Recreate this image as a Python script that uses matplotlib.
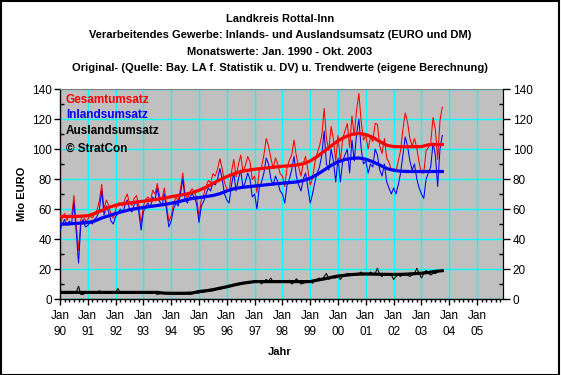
import matplotlib
matplotlib.use("Agg")
import matplotlib.pyplot as plt
from matplotlib.patches import Rectangle
from matplotlib.ticker import MultipleLocator, FixedLocator

plt.rcParams['font.family'] = ['Liberation Sans', 'DejaVu Sans']

# ---------------- data (monthly, Jan 1990 - Oct 2003) ----------------
inland = [
    46, 50, 53, 49, 52, 50, 64, 45, 24, 50, 53, 48,      # 1990
    49, 51, 50, 53, 55, 60, 72, 56, 62, 58, 52, 50,      # 1991
    55, 57, 60, 58, 62, 66, 60, 58, 63, 65, 58, 46,      # 1992
    58, 62, 64, 61, 68, 66, 74, 65, 62, 70, 59, 48,      # 1993
    52, 60, 64, 62, 70, 80, 66, 64, 68, 70, 68, 63,      # 1994
    51, 62, 65, 70, 74, 72, 78, 76, 80, 87, 80, 70,      # 1995
    66, 64, 76, 84, 72, 80, 86, 74, 78, 84, 80, 68,      # 1996
    70, 60, 74, 78, 84, 94, 90, 80, 76, 82, 78, 72,      # 1997
    70, 64, 76, 80, 86, 95, 82, 76, 72, 80, 84, 74,      # 1998
    64, 70, 78, 84, 88, 96, 112, 90, 86, 100, 92, 78,    # 1999
    94, 78, 92, 96, 100, 84, 106, 92, 110, 120, 100, 90, # 2000
    92, 84, 90, 88, 100, 96, 86, 82, 90, 78, 74, 70,     # 2001
    74, 70, 76, 84, 96, 108, 102, 92, 86, 90, 80, 74,    # 2002
    70, 67, 80, 84, 88, 104, 96, 75, 100, 109,           # 2003
]
ausland = [
    3.5, 4, 4, 3.5, 4, 4.5, 5, 4.5, 8.5, 3, 3, 4,
    4, 4.5, 4, 4, 4.5, 5.5, 4.5, 4, 4, 4.5, 4, 4,
    4.5, 7, 4, 4, 4.5, 4, 4, 4.5, 4, 4, 4.5, 4,
    4, 4.5, 4, 4, 4.5, 4, 3, 3.5, 4, 4, 3.5, 3.5,
    3.5, 3.5, 4, 3.5, 3.5, 4, 3.5, 3.5, 3, 3.5, 4, 4,
    4, 4.5, 4.5, 5, 5, 5.5, 5.5, 6, 6.5, 6.5, 7, 7.5,
    7.5, 8, 8.5, 9, 9.5, 9.5, 10, 10.5, 11, 11, 11.5, 11.5,
    12, 11, 12, 10, 12, 13, 12, 14, 11, 12, 12, 11.5,
    12, 11, 12, 12.5, 10, 11, 13.5, 12, 10, 10.5, 11, 12,
    12, 10.5, 13, 13, 14, 13, 15, 17, 13, 15, 14.5, 14,
    15, 13, 15, 16, 17, 17, 16, 17, 16, 17, 18, 16,
    17, 16, 18, 17, 17, 20.5, 16, 15, 17, 16, 17, 16,
    13, 15, 16, 15, 17, 16, 16, 15, 16, 17, 20.5, 17,
    14, 17, 19, 17, 16, 17, 17, 18, 19, 19,
]
gesamt = [
    49.5, 54, 57, 52.5, 56, 54.5, 69, 49.5, 32.5, 53, 56, 52,
    53, 55.5, 54, 57, 59.5, 65.5, 76.5, 60, 66, 62.5, 56, 54,
    59.5, 64, 64, 62, 66.5, 70, 64, 62.5, 67, 69, 62.5, 50,
    62, 66.5, 68, 65, 72.5, 70, 77, 68.5, 66, 74, 62.5, 51.5,
    55.5, 63.5, 68, 65.5, 73.5, 84, 69.5, 67.5, 71, 73.5, 72, 67,
    55, 66.5, 69.5, 75, 79, 77.5, 83.5, 82, 86.5, 93.5, 87, 77.5,
    73.5, 72, 84.5, 93, 81.5, 89.5, 96, 84.5, 89, 95, 91.5, 79.5,
    82, 71, 86, 88, 96, 107, 102, 94, 87, 94, 90, 83.5,
    82, 75, 88, 92.5, 96, 106, 95.5, 88, 82, 90.5, 95, 86,
    76, 80.5, 91, 97, 102, 109, 127, 107, 99, 115, 106.5, 92,
    109, 91, 107, 112, 117, 101, 122, 109, 126, 137, 118, 106,
    109, 100, 108, 105, 117, 116.5, 102, 97, 107, 94, 91, 86,
    87, 85, 92, 99, 113, 124, 118, 107, 102, 107, 100.5, 91,
    84, 84, 99, 101, 104, 121, 113, 93, 119, 128,
]

# trend values, sampled quarterly (Jan, Apr, Jul, Oct), Jan 1990 - Oct 2003
trend_gesamt = [
    55, 55, 55, 55.2, 55.5, 57, 59, 61, 62.5, 63.5, 64, 64.7,
    65.2, 65.8, 66.5, 67.2, 68.2, 69, 69.8, 70.8, 72.5, 74.5, 77, 79.5,
    81.6, 83.5, 85, 85.8, 86.5, 87, 87.5, 88, 88.5, 88.8, 89.3, 90.2,
    92, 95, 98.5, 102, 105.5, 108, 109.8, 110.4, 109.6, 107.8, 105, 102.5,
    101.6, 101.5, 101.5, 101.5, 101.6, 102.8, 103, 103,
]
trend_inland = [
    50, 50, 50.3, 50.6, 51, 52, 54, 55.5, 57, 58.3, 59.5, 60.3,
    61, 61.7, 62.3, 63, 63.8, 64.8, 66, 67, 67.6, 68.3, 69, 70.2,
    72, 73.5, 74.3, 74.8, 75.3, 75.8, 76.3, 76.8, 77.2, 77.6, 78, 79,
    80.5, 83, 86, 89, 91.5, 93, 93.8, 94, 93.2, 91.5, 89.3, 87,
    85.8, 85.2, 85, 85, 85, 85, 85, 85,
]
trend_ausland = [
    4.4, 4.4, 4.4, 4.4, 4.4, 4.4, 4.4, 4.4, 4.4, 4.4, 4.4, 4.4,
    4.4, 4.4, 4.4, 3.9, 3.8, 3.8, 3.8, 4.0, 5.0, 5.5, 6.2, 7.2,
    8.2, 9.3, 10.3, 11.0, 11.6, 11.6, 11.6, 11.6, 11.6, 11.6, 11.6, 11.6,
    11.6, 12.6, 13.4, 14.4, 15.3, 15.8, 16.3, 16.6, 16.7, 16.6, 16.5, 16.4,
    16.4, 16.4, 16.6, 16.9, 17.2, 17.7, 18.4, 18.9,
]

year_labels = ["90", "91", "92", "93", "94", "95", "96", "97",
               "98", "99", "00", "01", "02", "03", "04", "05"]

title_lines = [
    "Landkreis Rottal-Inn",
    "Verarbeitendes Gewerbe: Inlands- und Auslandsumsatz (EURO und DM)",
    "Monatswerte: Jan. 1990 - Okt. 2003",
    "Original- (Quelle: Bay. LA f. Statistik u. DV) u. Trendwerte (eigene Berechnung)",
]
legend_items = [("Gesamtumsatz", "#FF0000"), ("Inlandsumsatz", "#0000FF"),
                ("Auslandsumsatz", "#000000"), ("\u00a9 StratCon", "#000000")]

# ---------------- figure ----------------
W, H = 561, 375
fig = plt.figure(figsize=(W / 100, H / 100), dpi=100, facecolor="white")
fig.patches.append(Rectangle((0.5 / W, 0.5 / H), (W - 2.5) / W, (H - 1.5) / H,
                             transform=fig.transFigure, fill=False,
                             edgecolor="black", linewidth=1.5))

L, R, T, B = 60, 503, 89, 299
ax = fig.add_axes([L / W, 1 - B / H, (R - L) / W, (B - T) / H])
ax.set_facecolor("#C0C0C0")

months = list(range(len(gesamt)))
qmonths = [3 * i for i in range(len(trend_gesamt))]

ax.set_xlim(0, 191.2)
ax.set_ylim(0, 140)

# grid
ax.yaxis.set_major_locator(MultipleLocator(20))
ax.yaxis.set_minor_locator(MultipleLocator(10))
ax.xaxis.set_major_locator(FixedLocator([12 * i for i in range(len(year_labels))]))
ax.xaxis.set_minor_locator(MultipleLocator(2))
ax.grid(True, which="major", color="#00FFFF", linewidth=1.0)
ax.set_axisbelow(True)

lw = 0.75
ax.plot(months, gesamt, color="#FF0000", linewidth=lw, zorder=3)
ax.plot(months, inland, color="#0000FF", linewidth=lw, zorder=3)
ax.plot(months, ausland, color="#000000", linewidth=lw, zorder=3)
tw = 2.3
ax.plot(qmonths, trend_gesamt, color="#FF0000", linewidth=tw, zorder=4)
ax.plot(qmonths, trend_inland, color="#0000FF", linewidth=tw, zorder=4)
ax.plot(qmonths, trend_ausland, color="#000000", linewidth=tw, zorder=4)

ax.set_xticklabels(["Jan\n" + y for y in year_labels], fontsize=8.5, linespacing=1.45)
ax.tick_params(axis="x", which="major", direction="out", length=4, width=1, pad=4)
ax.tick_params(axis="x", which="minor", direction="out", length=2, width=1)
ax.tick_params(axis="y", which="major", direction="out", length=4, width=1,
               labelsize=8.5, pad=2)
ax.tick_params(axis="y", which="minor", direction="in", length=3, width=1)

for side in ("left", "bottom"):
    ax.spines[side].set_color("black")
    ax.spines[side].set_linewidth(1.0)
ax.spines["top"].set_color("#808080")
ax.spines["right"].set_color("black")

ax2 = ax.twinx()
ax2.set_ylim(0, 140)
ax2.yaxis.set_major_locator(MultipleLocator(20))
ax2.yaxis.set_minor_locator(MultipleLocator(10))
ax2.tick_params(axis="y", which="major", direction="out", length=5, width=1,
                labelsize=8.5, pad=2)
ax2.tick_params(axis="y", which="minor", direction="in", length=3, width=1)
for s in ax2.spines.values():
    s.set_visible(False)
ax2.spines["right"].set_visible(True)
ax2.spines["right"].set_color("black")

# titles
for i, line in enumerate(title_lines):
    fig.text(280 / W, 1 - (19 + 16.3 * i) / H, line, ha="center", va="center",
             fontsize=8, fontweight="bold")

# in-plot legend text
for i, (txt, col) in enumerate(legend_items):
    ypix = [100, 115, 131, 149][i]
    fig.text(66 / W, 1 - ypix / H, txt, ha="left", va="center", fontsize=8.5,
             fontweight="bold", color=col)

fig.text(22 / W, 1 - 194 / H, "Mio EURO", rotation=90, ha="center", va="center",
         fontsize=8, fontweight="bold")
fig.text(280 / W, 1 - 352 / H, "Jahr", ha="center", va="center", fontsize=8,
         fontweight="bold")

fig.savefig("out.png", dpi=100, facecolor="white")
